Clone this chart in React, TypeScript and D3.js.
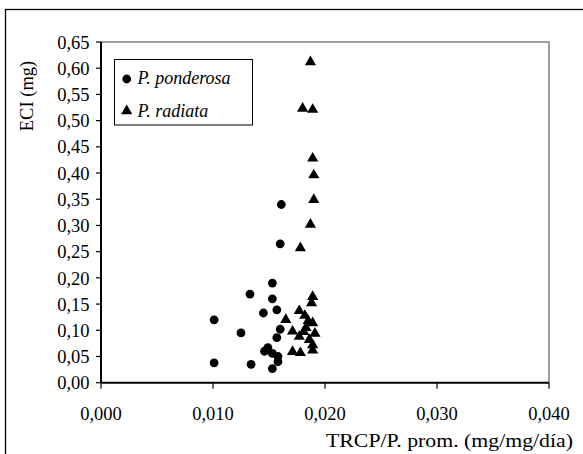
import React from "react";
import * as d3 from "d3";

const ponderosaX = [0.0101, 0.0101, 0.0125, 0.0133, 0.0134, 0.0145, 0.0153, 0.0153, 0.0157, 0.0160, 0.0161, 0.0160, 0.0157, 0.0149, 0.0146, 0.0153, 0.0158, 0.0158, 0.0153];
const ponderosaY = [0.120, 0.038, 0.095, 0.169, 0.035, 0.133, 0.190, 0.160, 0.139, 0.265, 0.340, 0.102, 0.086, 0.067, 0.060, 0.056, 0.050, 0.040, 0.027];

const radiataX = [0.0187, 0.0180, 0.0189, 0.0189, 0.0190, 0.0190, 0.0187, 0.0178, 0.0189, 0.0188, 0.0177, 0.0182, 0.0165, 0.0189, 0.0185, 0.0171, 0.0181, 0.0191, 0.0177, 0.0186, 0.0189, 0.0189, 0.0149, 0.0171, 0.0178, 0.0183];
const radiataY = [0.612, 0.523, 0.521, 0.428, 0.396, 0.349, 0.302, 0.257, 0.164, 0.152, 0.137, 0.128, 0.120, 0.114, 0.118, 0.098, 0.097, 0.094, 0.088, 0.082, 0.072, 0.062, 0.062, 0.059, 0.057, 0.105];

const xTicks = [0, 0.01, 0.02, 0.03, 0.04];
const yTicks = [0, 0.05, 0.1, 0.15, 0.2, 0.25, 0.3, 0.35, 0.4, 0.45, 0.5, 0.55, 0.6, 0.65];
const seriesNames = ["P. ponderosa", "P. radiata"];
const xTitle = "TRCP/P. prom. (mg/mg/día)";
const yTitle = "ECI (mg)";

const W = 583;
const H = 454;
const L = 101, R = 549, T = 42, B = 382.7;
const FONT = "'Liberation Serif', 'Times New Roman', serif";

export default function App() {
  const x = d3.scaleLinear().domain([0, 0.04]).range([L, R]);
  const y = d3.scaleLinear().domain([0, 0.65]).range([B, T]);
  const fmtX = (v: number) => d3.format(".3f")(v).replace(".", ",");
  const fmtY = (v: number) => d3.format(".2f")(v).replace(".", ",");
  const tri = d3.symbol().type(d3.symbolTriangle).size(54)() as string;

  return (
    <svg width={W} height={H} style={{ position: "absolute", left: 0, top: 0, background: "#fff" }} fontFamily={FONT}>
      <rect x={0} y={0} width={W} height={H} fill="#fff" />
      <rect x={5.5} y={9.5} width={700} height={600} fill="none" stroke="#000" strokeWidth={1.3} />
      {/* plot area border */}
      <path d={`M${L},${T}H${R}V${B}`} fill="none" stroke="#808080" strokeWidth={1.5} />
      {/* axes */}
      <line x1={L} x2={L} y1={T} y2={B} stroke="#000" strokeWidth={2} />
      <line x1={L} x2={R} y1={B} y2={B} stroke="#000" strokeWidth={2} />
      {yTicks.map((t) => (
        <g key={"y" + t}>
          <line x1={L - 5} x2={L} y1={y(t)} y2={y(t)} stroke="#000" strokeWidth={1.2} />
          <text x={89.5} y={y(t)} dy="0.36em" textAnchor="end" fontSize={18.5}>{fmtY(t)}</text>
        </g>
      ))}
      {xTicks.map((t) => (
        <g key={"x" + t}>
          <line x1={x(t)} x2={x(t)} y1={B} y2={B + 6} stroke="#000" strokeWidth={1.2} />
          <text x={x(t)} y={420} textAnchor="middle" fontSize={18.5}>{fmtX(t)}</text>
        </g>
      ))}
      <text x={326} y={446.5} fontSize={19} textLength={247} lengthAdjust="spacingAndGlyphs">{xTitle}</text>
      <text transform={`translate(33,96) rotate(-90)`} textAnchor="middle" fontSize={18.5}>{yTitle}</text>
      {/* points */}
      {ponderosaX.map((v, i) => (
        <circle key={"p" + i} cx={x(v)} cy={y(ponderosaY[i])} r={4.4} fill="#000" />
      ))}
      {radiataX.map((v, i) => (
        <path key={"r" + i} d={tri} transform={`translate(${x(v)},${y(radiataY[i])})`} fill="#000" />
      ))}
      {/* legend */}
      <rect x={114.5} y={59.5} width={138} height={65.5} fill="#fff" stroke="#000" strokeWidth={1} />
      <circle cx={126.7} cy={79} r={4.4} fill="#000" />
      <text x={137.5} y={84} fontSize={18} fontStyle="italic">{seriesNames[0]}</text>
      <path d={tri} transform={`translate(126.7,111)`} fill="#000" />
      <text x={137.5} y={117} fontSize={18} fontStyle="italic">{seriesNames[1]}</text>
    </svg>
  );
}
